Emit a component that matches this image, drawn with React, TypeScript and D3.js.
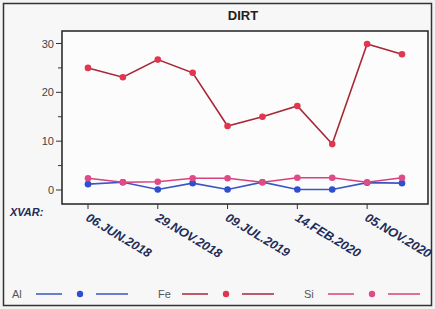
import React from "react";
import * as d3 from "d3";

const dates = [
  "06.JUN.2018", "", "29.NOV.2018", "", "09.JUL.2019",
  "", "14.FEB.2020", "", "05.NOV.2020", "",
];
const fe = [25, 23.1, 26.7, 24.0, 13.1, 15.0, 17.2, 9.4, 29.9, 27.8];
const si = [2.4, 1.6, 1.7, 2.4, 2.4, 1.6, 2.5, 2.5, 1.6, 2.5];
const al = [1.2, 1.6, 0.1, 1.4, 0.1, 1.6, 0.1, 0.1, 1.5, 1.4];
const yTicks = [0, 10, 20, 30];
const yMinor = [5, 15, 25];

const series = [
  { name: "Al", values: al, line: "#3a55c4", dot: "#2f4fd0" },
  { name: "Si", values: si, line: "#d8407a", dot: "#e04a86" },
  { name: "Fe", values: fe, line: "#a82838", dot: "#e0364f" },
];
const legendOrder = ["Al", "Fe", "Si"];

export default function App() {
  const plot = { left: 62, top: 31, right: 428, bottom: 204 };
  const x = d3.scaleLinear().domain([0, dates.length - 1]).range([88, 402]);
  const y = d3.scaleLinear().domain([0, 30]).range([190, 43.5]);
  const line = d3
    .line<number>()
    .x((_, i) => x(i))
    .y((d) => y(d));
  const font = "'Liberation Sans', Arial, sans-serif";

  return (
    <svg
      width={435}
      height={309}
      style={{ position: "absolute", left: 0, top: 0, background: "#f3f3f3" }}
      fontFamily={font}
    >
      <rect x={3.5} y={3.5} width={428} height={302} fill="#f7f7f7" stroke="#333" strokeWidth={1.5} />
      <text x={243} y={20} textAnchor="middle" fontSize={13} fontWeight="bold" fill="#222">
        DIRT
      </text>
      <rect
        x={plot.left}
        y={plot.top}
        width={plot.right - plot.left}
        height={plot.bottom - plot.top}
        fill="#fcfcfc"
        stroke="#222"
        strokeWidth={1.5}
      />
      {yTicks.map((t) => (
        <g key={t}>
          <line x1={56} x2={plot.left} y1={y(t)} y2={y(t)} stroke="#333" />
          <text x={54} y={y(t) + 4} textAnchor="end" fontSize={11} fill="#444">
            {t}
          </text>
        </g>
      ))}
      {yMinor.map((t) => (
        <line key={t} x1={58} x2={plot.left} y1={y(t)} y2={y(t)} stroke="#333" />
      ))}
      {dates.map((d, i) =>
        d ? (
          <g key={i}>
            <line x1={x(i)} x2={x(i)} y1={plot.bottom} y2={plot.bottom + 5} stroke="#333" />
            <text
              transform={`translate(${x(i) - 3},${plot.bottom + 16}) rotate(31)`}
              fontSize={12.5}
              fontWeight="bold"
              fontStyle="italic"
              fill="#222c58"
            >
              {d}
            </text>
          </g>
        ) : null
      )}
      <text x={10} y={216} fontSize={11} fontWeight="bold" fontStyle="italic" fill="#222c58">
        XVAR:
      </text>
      {series.map((s) => (
        <g key={s.name}>
          <path d={line(s.values) ?? ""} fill="none" stroke={s.line} strokeWidth={1.6} />
          {s.values.map((v, i) => (
            <circle key={i} cx={x(i)} cy={y(v)} r={3.3} fill={s.dot} />
          ))}
        </g>
      ))}
      {legendOrder.map((n, k) => {
        const s = series.find((d) => d.name === n)!;
        const x0 = 12 + k * 146;
        return (
          <g key={n} transform={`translate(${x0},294)`}>
            <text x={0} y={4} fontSize={11} fill="#555">
              {n}
            </text>
            <line x1={24} x2={50} y1={0} y2={0} stroke={s.line} strokeWidth={1.5} />
            <circle cx={68} cy={0} r={3.2} fill={s.dot} />
            <line x1={84} x2={116} y1={0} y2={0} stroke={s.line} strokeWidth={1.5} />
          </g>
        );
      })}
    </svg>
  );
}
